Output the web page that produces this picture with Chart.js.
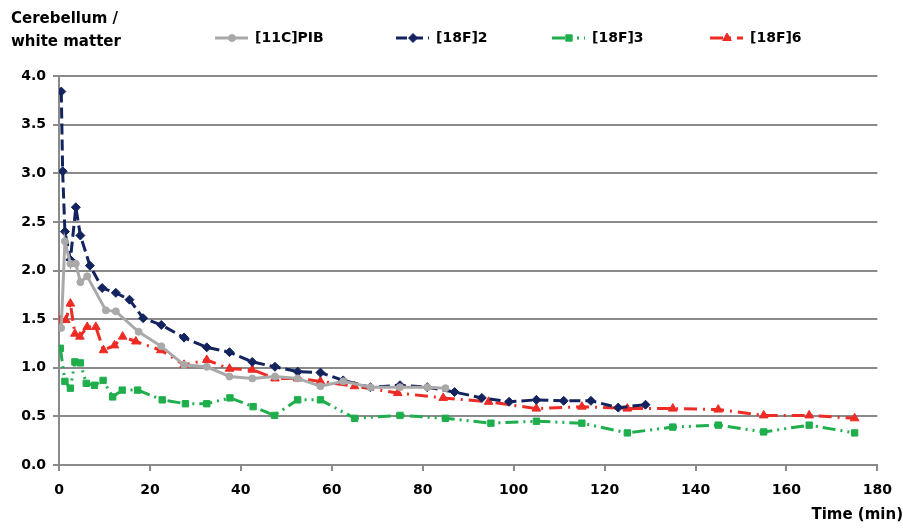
<!DOCTYPE html>
<html>
<head>
<meta charset="utf-8">
<script src="https://cdn.jsdelivr.net/npm/chart.js@4.4.1/dist/chart.umd.min.js"></script>
<style>
  html, body { margin: 0; padding: 0; background: #fff; }
  #wrap { width: 903px; height: 529px; position: relative; }
</style>
</head>
<body>
<div id="wrap"><canvas id="myChart" width="903" height="529"></canvas></div>
<script>
// time (min) and cerebellum / white matter ratio
const pibTime = [0.5, 1.3, 2.5, 3.7, 4.7, 6.2, 10.3, 12.5, 17.5, 22.5, 27.5, 32.5, 37.5, 42.5, 47.5, 52.5, 57.5, 62.5, 68.5, 75, 81, 85];
const pibRatio = [1.41, 2.30, 2.07, 2.07, 1.88, 1.94, 1.59, 1.58, 1.37, 1.22, 1.03, 1.01, 0.91, 0.89, 0.91, 0.89, 0.81, 0.86, 0.80, 0.80, 0.80, 0.79];

const f2Time = [0.5, 0.8, 1.3, 2.5, 3.7, 4.7, 6.8, 9.5, 12.5, 15.5, 18.5, 22.5, 27.5, 32.5, 37.5, 42.5, 47.5, 52.5, 57.5, 62.5, 68.5, 75, 81, 87, 93, 99, 105, 111, 117, 123, 129];
const f2Ratio = [3.84, 3.02, 2.40, 2.11, 2.65, 2.36, 2.05, 1.82, 1.77, 1.70, 1.51, 1.44, 1.31, 1.21, 1.16, 1.06, 1.01, 0.96, 0.95, 0.87, 0.80, 0.82, 0.80, 0.75, 0.69, 0.65, 0.67, 0.66, 0.66, 0.59, 0.62];

const f3Time = [0.3, 1.3, 2.5, 3.5, 4.7, 6, 7.8, 9.7, 11.8, 13.9, 17.3, 22.7, 27.8, 32.5, 37.6, 42.7, 47.4, 52.5, 57.5, 65, 75, 85, 95, 105, 115, 125, 135, 145, 155, 165, 175];
const f3Ratio = [1.20, 0.86, 0.79, 1.06, 1.05, 0.84, 0.82, 0.87, 0.70, 0.77, 0.77, 0.67, 0.63, 0.63, 0.69, 0.60, 0.51, 0.67, 0.67, 0.48, 0.51, 0.48, 0.43, 0.45, 0.43, 0.33, 0.39, 0.41, 0.34, 0.41, 0.33];

const f6Time = [0.3, 1.5, 2.5, 3.5, 4.6, 6.2, 8.1, 9.8, 12.2, 14, 16.9, 22.4, 27.5, 32.5, 37.5, 42.5, 47.5, 52.5, 57.5, 65, 74.5, 84.5, 94.5, 105, 115, 125, 135, 145, 155, 165, 175];
const f6Ratio = [1.49, 1.49, 1.66, 1.35, 1.32, 1.42, 1.42, 1.18, 1.23, 1.32, 1.27, 1.18, 1.03, 1.08, 0.99, 0.98, 0.89, 0.89, 0.86, 0.81, 0.74, 0.69, 0.65, 0.58, 0.60, 0.58, 0.58, 0.57, 0.51, 0.51, 0.48];

const seriesNames = ["[11C]PIB", "[18F]2", "[18F]3", "[18F]6"];
const xTicks = [0, 20, 40, 60, 80, 100, 120, 140, 160, 180];
const yTicks = [0, 0.5, 1, 1.5, 2, 2.5, 3, 3.5, 4];

const toPoints = (xs, ys) => xs.map((x, i) => ({ x: x, y: ys[i] }));

const FONT = "'DejaVu Sans', sans-serif";
const GRID = "#8a8a8a";

// legend row and axis titles, drawn on the canvas
const legendX = [215, 396, 552, 710];
const labelsPlugin = {
  id: "labels",
  afterDraw(chart) {
    const ctx = chart.ctx;
    ctx.save();
    ctx.fillStyle = "#000";
    ctx.font = "bold 15px " + FONT;
    ctx.textBaseline = "middle";
    ctx.textAlign = "left";
    ctx.fillText("Cerebellum /", 11, 19);
    ctx.fillText("white matter", 11, 42);
    ctx.textAlign = "right";
    ctx.fillText("Time (min)", 903, 515);

    chart.data.datasets.forEach((ds, i) => {
      const x0 = legendX[i];
      const y = 38;
      // sample line
      ctx.save();
      ctx.strokeStyle = ds.borderColor;
      ctx.lineWidth = ds.borderWidth;
      ctx.setLineDash(ds.borderDash || []);
      ctx.beginPath();
      ctx.moveTo(x0, y);
      ctx.lineTo(x0 + 33, y);
      ctx.stroke();
      ctx.restore();
      // marker
      ctx.save();
      ctx.fillStyle = ds.borderColor;
      ctx.strokeStyle = ds.borderColor;
      ctx.lineWidth = 1;
      Chart.helpers.drawPoint(ctx, {
        pointStyle: ds.pointStyle,
        radius: ds.pointRadius,
        borderWidth: 1,
        rotation: 0
      }, x0 + 17, y);
      ctx.restore();
      // label
      ctx.fillStyle = "#000";
      ctx.textAlign = "left";
      ctx.font = "bold 14px " + FONT;
      ctx.fillText(ds.label, x0 + 40, y);
    });
    ctx.restore();
  }
};

const makeSet = (label, data, color, dash, style, r) => ({
  label: label,
  data: data,
  borderColor: color,
  backgroundColor: color,
  pointBackgroundColor: color,
  pointBorderColor: color,
  borderWidth: 3,
  borderDash: dash,
  pointStyle: style,
  pointRadius: r,
  pointBorderWidth: 1,
  tension: 0,
  fill: false
});

const datasets = [
  makeSet(seriesNames[0], toPoints(pibTime, pibRatio), "#a9a9a9", [], "circle", 3.5),
  makeSet(seriesNames[1], toPoints(f2Time, f2Ratio), "#13235e", [11, 5], "rectRot", 4.5),
  makeSet(seriesNames[2], toPoints(f3Time, f3Ratio), "#1fae4c", [13, 5, 2, 5, 2, 5], "rect", 4.5),
  makeSet(seriesNames[3], toPoints(f6Time, f6Ratio), "#ee2b25", [13, 6, 2, 6], "triangle", 5)
];

const myChart = new Chart(document.getElementById("myChart"), {
  type: "line",
  data: { datasets: datasets },
  plugins: [labelsPlugin],
  options: {
    responsive: false,
    animation: false,
    layout: { padding: { top: 76, right: 18, bottom: 0, left: 0 } },
    plugins: {
      legend: { display: false },
      tooltip: { enabled: false }
    },
    scales: {
      x: {
        type: "linear",
        min: 0,
        max: 180,
        afterBuildTicks: (s) => { s.ticks = xTicks.map(v => ({ value: v })); },
        afterFit: (s) => { s.height = 64; },
        border: { color: GRID, width: 2 },
        grid: { drawOnChartArea: false, drawTicks: true, tickLength: 6, color: GRID, lineWidth: 2 },
        ticks: {
          color: "#000",
          padding: 11,
          maxRotation: 0,
          font: { family: FONT, size: 14, weight: "bold" }
        }
      },
      y: {
        min: 0,
        max: 4,
        afterBuildTicks: (s) => { s.ticks = yTicks.map(v => ({ value: v })); },
        afterFit: (s) => { s.width = 59; },
        border: { color: GRID, width: 2 },
        grid: { color: GRID, lineWidth: 2, drawTicks: true, tickLength: 6 },
        ticks: {
          color: "#000",
          padding: 7,
          callback: (v) => Number(v).toFixed(1),
          font: { family: FONT, size: 14, weight: "bold" }
        }
      }
    }
  }
});
</script>
</body>
</html>
